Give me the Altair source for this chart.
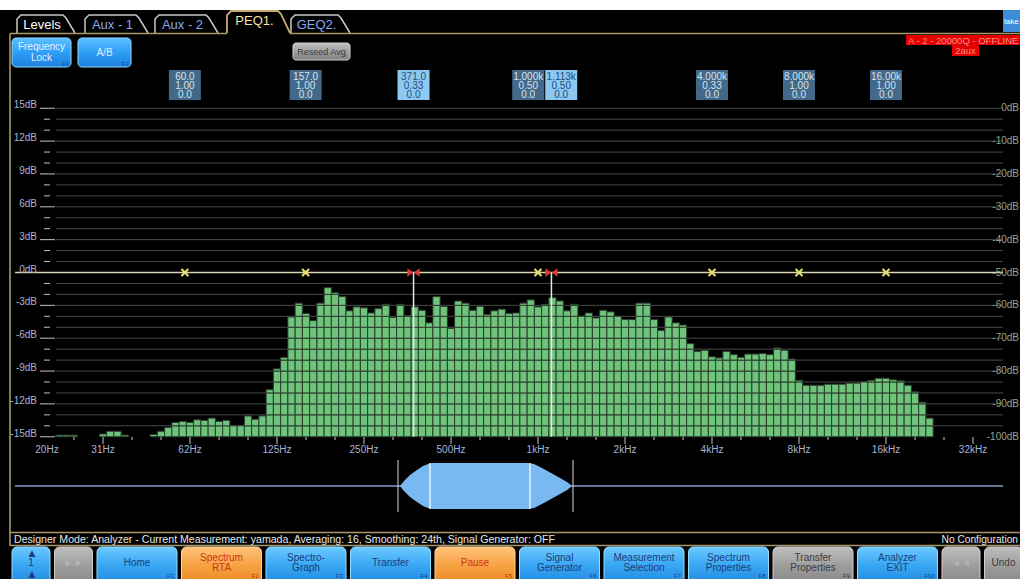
import altair as alt
import numpy as np
import pandas as pd

W, H = 1020, 579
FONT = "Liberation Sans"
NARROW = "Liberation Sans Narrow, Liberation Sans"

# ---------------- data ----------------
# RTA bands, 1/12 octave, index k -> centre 1 kHz * 2^(k/12)
band_index = [-66, -65, -64, -60, -59, -58, -57] + list(range(-53, 55))
level_db = [
    -14.85, -14.85, -14.85,
    -14.75, -14.5, -14.5, -14.85,
    -14.8, -14.5, -14.15, -13.7, -13.6, -13.7, -13.45, -13.5, -13.3, -13.6,
    -13.5, -14.0, -14.0, -13.1, -13.4, -13.1, -10.7, -8.8, -7.75, -4.06,
    -2.8, -3.75, -4.4, -2.8, -1.38, -1.85, -2.2, -3.5, -3.14, -3.23,
    -3.7, -3.3, -2.9, -4.1, -2.9, -3.94, -3.14, -3.45, -4.6, -2.2,
    -3.1, -5.1, -2.6, -2.8, -3.45, -3.1, -3.85, -3.5, -3.35, -3.75,
    -3.7, -2.8, -2.5, -3.14, -2.9, -2.3, -2.6, -3.5, -2.9, -4.0,
    -3.7, -4.15, -3.45, -3.6, -4.0, -4.3, -4.3, -2.8, -2.8, -4.3,
    -5.3, -4.06, -4.6, -4.8, -6.5, -7.2, -7.1, -7.7, -7.8, -7.2,
    -7.5, -7.75, -7.45, -7.45, -7.4, -7.5, -6.9, -7.1, -7.9, -9.85,
    -10.3, -10.3, -10.3, -10.2, -10.2, -10.2, -10.1, -10.1, -10.0, -9.85,
    -9.66, -9.66, -9.8, -9.9, -10.3, -10.9, -11.85, -13.3,
]

filter_freq = [60, 157, 371, 1000, 1113, 4000, 8000, 16000]
filter_label = ["60.0", "157.0", "371.0", "1.000k", "1.113k", "4.000k", "8.000k", "16.00k"]
filter_q = ["1.00", "1.00", "0.33", "0.50", "0.50", "0.33", "1.00", "1.00"]
filter_gain = ["0.0", "0.0", "0.0", "0.0", "0.0", "0.0", "0.0", "0.0"]
filter_selected = [False, False, True, False, True, False, False, False]

left_ticks_db = list(range(15, -16, -3))
left_tick_labels = [f"{v}dB" for v in left_ticks_db]
right_tick_labels = ["0dB", "-10dB", "-20dB", "-30dB", "-40dB", "-50dB",
                     "-60dB", "-70dB", "-80dB", "-90dB", "-100dB"]
x_label_freq = [20, 31.25, 62.5, 125, 250, 500, 1000, 2000, 4000, 8000, 16000, 32000]
x_label_text = ["20Hz", "31Hz", "62Hz", "125Hz", "250Hz", "500Hz", "1kHz", "2kHz",
                "4kHz", "8kHz", "16kHz", "32kHz"]

tab_labels = ["Levels", "Aux - 1", "Aux - 2", "PEQ1.", "GEQ2."]
tab_text_color = ["#ffffff", "#86a8ec", "#86a8ec", "#f0e2a8", "#86a8ec"]
btn_labels = ["1", "►►", "Home", "Spectrum\nRTA", "Spectro-\nGraph", "Transfer", "Pause",
              "Signal\nGenerator", "Measurement\nSelection", "Spectrum\nProperties",
              "Transfer\nProperties", "Analyzer\nEXIT", "◄◄", "Undo"]
btn_kind = ["blue", "gray", "blue", "orange", "blue", "blue", "orange", "blue", "blue",
            "blue", "gray", "blue", "gray", "gray"]
btn_fkey = ["", "", "F1", "F2", "F3", "F4", "F5", "F6", "F7", "F8", "F9", "F10", "", ""]
status_text = ("Designer Mode: Analyzer - Current Measurement: yamada, Averaging: 16, "
               "Smoothing: 24th, Signal Generator: OFF")
status_right = "No Configuration"

# ---------------- layout / scales ----------------
PX_OCT = 87.0      # pixels per octave
X_1K = 538.0       # pixel of 1 kHz
Y_0DB = 272.5      # pixel of 0 dB
PX_DB = 10.95      # pixels per dB
F_MIN = 1000 * 2 ** (-X_1K / PX_OCT)
F_MAX = 1000 * 2 ** ((W - X_1K) / PX_OCT)
DB_TOP = Y_0DB / PX_DB
DB_BOT = -(H - Y_0DB) / PX_DB

XF = alt.Scale(type="log", domain=[F_MIN, F_MAX], range=[0, W], nice=False)
YD = alt.Scale(domain=[DB_BOT, DB_TOP], range=[H, 0], nice=False, zero=False)
XP = alt.Scale(domain=[0, W], range=[0, W], nice=False, zero=False)
YP = alt.Scale(domain=[0, H], range=[0, H], nice=False, zero=False)


def fX(c):
    return alt.X(f"{c}:Q", scale=XF, axis=None)


def dY(c):
    return alt.Y(f"{c}:Q", scale=YD, axis=None)


def pX(c):
    return alt.X(f"{c}:Q", scale=XP, axis=None)


def pY(c):
    return alt.Y(f"{c}:Q", scale=YP, axis=None)


def grad(stops):
    return alt.Gradient(gradient="linear", x1=0, x2=0, y1=0, y2=1,
                        stops=[alt.GradientStop(color=c, offset=o) for o, c in stops])


def block_y(labels, centre, lh):
    # first-line y so that a multi-line label is centred on `centre`
    return [centre - (t.count("\n")) * lh / 2 for t in labels]


layers = []

# white strip at the very top
layers.append(alt.Chart(pd.DataFrame({"x0": [0], "x1": [W], "y0": [0], "y1": [10]}))
              .mark_rect(color="#ffffff").encode(x=pX("x0"), x2="x1", y=pY("y0"), y2="y1"))

# ---------------- plot: grid ----------------
grid_db = [v for v in range(15, -15, -1) if v != 0]
layers.append(alt.Chart(pd.DataFrame({"db": grid_db})).mark_rule(color="#4a4a4a", strokeWidth=1)
              .encode(y=dY("db"), x=alt.value(56), x2=alt.value(1003)))

# ---------------- bars as 1 dB cells ----------------
cells = []
for k, t in zip(band_index, level_db):
    fc = 1000 * 2 ** (k / 12)
    f0, f1 = fc * 2 ** (-1 / 24), fc * 2 ** (1 / 24)
    lv = -15
    while lv < t:
        cells.append({"f0": f0, "f1": f1, "y0": lv, "y1": min(lv + 1, t)})
        lv += 1
layers.append(alt.Chart(pd.DataFrame(cells))
              .mark_rect(fill="#6fc47c", stroke="#2c3d2e", strokeWidth=1)
              .encode(x=fX("f0"), x2="f1", y=dY("y0"), y2="y1"))

# x ticks
tick_rows = []
for n in range(-1, 31):
    tick_rows.append({"f": 31.25 * 2 ** (n / 3), "y0": 437, "y1": 444 if n % 3 == 0 else 440})
layers.append(alt.Chart(pd.DataFrame(tick_rows)).mark_rule(color="#c8c8c8", strokeWidth=1)
              .encode(x=fX("f"), y=pY("y0"), y2="y1"))

# left ticks
lt = pd.DataFrame({"db": list(range(15, -16, -1))})
lt_major = lt[lt.db % 3 == 0]
lt_minor = lt[lt.db % 3 != 0]
layers.append(alt.Chart(lt_major).mark_rule(color="#c4c4c4", strokeWidth=1)
              .encode(y=dY("db"), x=alt.value(40), x2=alt.value(55)))
layers.append(alt.Chart(lt_minor).mark_rule(color="#c4c4c4", strokeWidth=1)
              .encode(y=dY("db"), x=alt.value(44), x2=alt.value(50)))

# 0 dB line
layers.append(alt.Chart(pd.DataFrame({"db": [0]})).mark_rule(color="#d6d6b4", strokeWidth=1.5)
              .encode(y=dY("db"), x=alt.value(15), x2=alt.value(1003)))

fdf = pd.DataFrame({"f": filter_freq, "lab": filter_label, "q": filter_q, "g": filter_gain,
                    "sel": filter_selected, "top": 0.0, "bot": -15.0})
# selected filter cursor lines
layers.append(alt.Chart(fdf[fdf.sel]).mark_rule(color="#e6e6e6", strokeWidth=1.5)
              .encode(x=fX("f"), y=dY("top"), y2="bot"))
# markers
XSHAPE = ("M -1 -0.7 L -0.65 -1 L 0 -0.38 L 0.65 -1 L 1 -0.7 L 0.38 0 L 1 0.7 L 0.65 1 "
          "L 0 0.38 L -0.65 1 L -1 0.7 L -0.38 0 Z")
BOWTIE = "M -1 -0.7 L -0.05 0 L -1 0.7 Z M 1 -0.7 L 0.05 0 L 1 0.7 Z"
layers.append(alt.Chart(fdf[~fdf.sel]).mark_point(shape=XSHAPE, filled=True, size=70,
                                                   color="#e8e070", opacity=1)
              .encode(x=fX("f"), y=dY("top")))
layers.append(alt.Chart(fdf[fdf.sel]).mark_point(shape=BOWTIE, filled=True, size=150,
                                                  color="#e03838", opacity=1)
              .encode(x=fX("f"), y=dY("top")))

# axis labels
layers.append(alt.Chart(pd.DataFrame({"db": left_ticks_db, "t": left_tick_labels}))
              .mark_text(align="right", baseline="middle", dy=-3, fontSize=10, font=FONT,
                         color="#a9b4d2")
              .encode(x=alt.value(37), y=dY("db"), text="t:N"))
layers.append(alt.Chart(pd.DataFrame({"db": left_ticks_db, "t": right_tick_labels}))
              .mark_text(align="right", baseline="middle", dy=0, fontSize=10, font=FONT,
                         color="#93a590")
              .encode(x=alt.value(1019), y=dY("db"), text="t:N"))
layers.append(alt.Chart(pd.DataFrame({"f": x_label_freq, "t": x_label_text, "y": 450}))
              .mark_text(align="center", baseline="middle", fontSize=10, font=NARROW,
                         color="#a8b4d6")
              .encode(x=fX("f"), y=pY("y"), text="t:N"))

# ---------------- filter parameter boxes ----------------
pos = np.log2(np.array(filter_freq, dtype=float) / 1000.0)
gap = 33 / PX_OCT
for _ in range(30):
    for i in range(len(pos) - 1):
        d = pos[i + 1] - pos[i]
        if d < gap:
            m = (gap - d) / 2
            pos[i] -= m
            pos[i + 1] += m
half = 16 / PX_OCT
fdf["bc"] = 1000 * 2 ** pos
fdf["b0"] = 1000 * 2 ** (pos - half)
fdf["b1"] = 1000 * 2 ** (pos + half)
fdf["y0"] = 70
fdf["y1"] = 100
fdf["fill"] = np.where(fdf.sel, "#8cc8f0", "#42698a")
fdf["tc"] = np.where(fdf.sel, "#1e4e80", "#d8e4f0")
layers.append(alt.Chart(fdf).mark_rect()
              .encode(x=fX("b0"), x2="b1", y=pY("y0"), y2="y1",
                      color=alt.Color("fill:N", scale=None)))
for col, yy in (("lab", 76.5), ("q", 85.5), ("g", 94.5)):
    d = fdf.copy()
    d["ty"] = yy
    layers.append(alt.Chart(d).mark_text(fontSize=10, font=NARROW, baseline="middle")
                  .encode(x=fX("bc"), y=pY("ty"), text=f"{col}:N",
                          color=alt.Color("tc:N", scale=None)))

# ---------------- chrome: tabs ----------------
tab_x0 = [17, 85, 155, 227, 291]
tab_x1 = [75, 148, 218, 290, 350]
tab_top = [15, 15, 15, 11, 15]
tab_pts = []
for i, (a, b, t) in enumerate(zip(tab_x0, tab_x1, tab_top)):
    for j, (x, y) in enumerate([(a, 33), (a, t + 4), (a + 4, t), (b - 12, t), (b - 9, t + 3), (b, 33)]):
        tab_pts.append({"tab": i, "o": j, "x": x, "y": y, "act": i == 3})
tp = pd.DataFrame(tab_pts)
layers.append(alt.Chart(tp[~tp.act]).mark_line(color="#c9c9c9", strokeWidth=1.5)
              .encode(x=pX("x"), y=pY("y"), detail="tab:N", order="o:Q"))
layers.append(alt.Chart(tp[tp.act]).mark_line(color="#c4ac6c", strokeWidth=1.8)
              .encode(x=pX("x"), y=pY("y"), detail="tab:N", order="o:Q"))
tt = pd.DataFrame({"t": tab_labels, "c": tab_text_color,
                   "x": [(a + b - 8) / 2 for a, b in zip(tab_x0, tab_x1)],
                   "y": [t + 10 for t in tab_top]})
layers.append(alt.Chart(tt).mark_text(fontSize=13, font=FONT, baseline="middle")
              .encode(x=pX("x"), y=pY("y"), text="t:N", color=alt.Color("c:N", scale=None)))

# khaki frame lines
frame = pd.DataFrame({"x0": [10, 290, 10, 10, 10], "x1": [227, W, 10, W, W],
                      "y0": [33.5, 33.5, 33.5, 532.5, 545.5], "y1": [33.5, 33.5, 546, 532.5, 545.5]})
layers.append(alt.Chart(frame).mark_rule(color="#a8976a", strokeWidth=1.6)
              .encode(x=pX("x0"), x2="x1", y=pY("y0"), y2="y1"))

# lake logo
layers.append(alt.Chart(pd.DataFrame({"x0": [1003], "x1": [W], "y0": [10], "y1": [32]}))
              .mark_rect(color="#3b8ddb").encode(x=pX("x0"), x2="x1", y=pY("y0"), y2="y1"))
layers.append(alt.Chart(pd.DataFrame({"x": [1004], "y": [22], "t": ["lake"]}))
              .mark_text(align="left", baseline="middle", fontSize=8, font=NARROW, color="#ffffff")
              .encode(x=pX("x"), y=pY("y"), text="t:N"))

# top buttons
BLUE_BRIGHT = grad([(0, "#5cc0ff"), (0.5, "#2e9ef5"), (1, "#1c7fe0")])
tb = pd.DataFrame({"x0": [12, 78], "x1": [71, 131], "y0": [38, 38], "y1": [67, 67],
                   "t": ["Frequency\nLock", "A/B"], "fk": ["F1", "F2"]})
tb["xc"] = (tb.x0 + tb.x1) / 2
tb["yc"] = block_y(list(tb.t), 52.5, 11)
tb["fx"] = tb.x1 - 2
tb["fy"] = 64
layers.append(alt.Chart(tb).mark_rect(fill=BLUE_BRIGHT, stroke="#8ed8ff", strokeWidth=1, cornerRadius=4)
              .encode(x=pX("x0"), x2="x1", y=pY("y0"), y2="y1"))
layers.append(alt.Chart(tb).mark_text(fontSize=10, font=FONT, color="#e4eeff", lineBreak="\n",
                                      lineHeight=11, baseline="middle")
              .encode(x=pX("xc"), y=pY("yc"), text="t:N"))
layers.append(alt.Chart(tb).mark_text(fontSize=6, font=FONT, color="#1a4a9a", align="right",
                                      baseline="middle")
              .encode(x=pX("fx"), y=pY("fy"), text="fk:N"))

# reseed avg
GRAY = grad([(0, "#c0c0c0"), (0.5, "#a0a0a0"), (1, "#808080")])
rs = pd.DataFrame({"x0": [293], "x1": [350], "y0": [43], "y1": [60], "xc": [321.5], "yc": [51.5],
                   "t": ["Reseed Avg"]})
layers.append(alt.Chart(rs).mark_rect(fill=GRAY, stroke="#d0d0d0", strokeWidth=1, cornerRadius=3)
              .encode(x=pX("x0"), x2="x1", y=pY("y0"), y2="y1"))
layers.append(alt.Chart(rs).mark_text(fontSize=9, font=FONT, color="#3a3a3a", baseline="middle")
              .encode(x=pX("xc"), y=pY("yc"), text="t:N"))

# offline label
red = pd.DataFrame({"x0": [906, 952], "x1": [W, 979], "y0": [35, 45], "y1": [45, 56]})
layers.append(alt.Chart(red).mark_rect(color="#e40000")
              .encode(x=pX("x0"), x2="x1", y=pY("y0"), y2="y1"))
redt = pd.DataFrame({"x": [908, 965.5], "y": [40.5, 50.5], "t": ["A - 2 - 20000Q - OFFLINE", "2aux"]})
layers.append(alt.Chart(redt.iloc[:1]).mark_text(fontSize=9.5, font=FONT, color="#ff8e84", align="left",
                                                 baseline="middle")
              .encode(x=pX("x"), y=pY("y"), text="t:N"))
layers.append(alt.Chart(redt.iloc[1:]).mark_text(fontSize=9.5, font=FONT, color="#ff8e84", align="center",
                                                 baseline="middle")
              .encode(x=pX("x"), y=pY("y"), text="t:N"))

# ---------------- filter overview strip ----------------
layers.append(alt.Chart(pd.DataFrame({"x0": [15], "x1": [1003], "y": [486]}))
              .mark_rule(color="#8a9cc8", strokeWidth=1.5)
              .encode(x=pX("x0"), x2="x1", y=pY("y")))
shape_x = [400, 404, 410, 417, 423, 428, 432, 528, 534, 542, 551, 560, 567, 572]
shape_h = [0, 5, 11, 16, 20, 22, 23, 23, 22, 18, 13, 8, 4, 0]
sh = pd.DataFrame({"x": shape_x, "y0": [486 - h for h in shape_h], "y1": [486 + h for h in shape_h]})
layers.append(alt.Chart(sh).mark_area(color="#7ab8f2", opacity=1)
              .encode(x=pX("x"), y=pY("y0"), y2="y1"))
vl = pd.DataFrame({"x": [398, 573, 430, 530], "y0": [460, 460, 463, 463], "y1": [512, 512, 509, 509]})
layers.append(alt.Chart(vl.iloc[:2]).mark_rule(color="#d8d8d8", strokeWidth=1)
              .encode(x=pX("x"), y=pY("y0"), y2="y1"))
layers.append(alt.Chart(vl.iloc[2:]).mark_rule(color="#eaf4ff", strokeWidth=1.5)
              .encode(x=pX("x"), y=pY("y0"), y2="y1"))

# ---------------- status bar ----------------
st = pd.DataFrame({"x": [14, 1018], "y": [539.5, 539.5], "t": [status_text, status_right]})
layers.append(alt.Chart(st.iloc[:1]).mark_text(fontSize=10.6, font=FONT, color="#e6e6e6", align="left",
                                               baseline="middle")
              .encode(x=pX("x"), y=pY("y"), text="t:N"))
layers.append(alt.Chart(st.iloc[1:]).mark_text(fontSize=10.2, font=FONT, color="#e6e6e6", align="right",
                                               baseline="middle")
              .encode(x=pX("x"), y=pY("y"), text="t:N"))

# ---------------- bottom buttons ----------------
units = [0.5 if k in ("1", "►►", "◄◄", "Undo") else 1.0 for k in btn_labels]
xs, x = [], 12.0
for u in units:
    w = 38.0 if u < 1 else 80.0
    xs.append((x, x + w))
    x += w + 4.5
bb = pd.DataFrame({"t": btn_labels, "kind": btn_kind, "fk": btn_fkey,
                   "x0": [a for a, _ in xs], "x1": [b for _, b in xs]})
bb["y0"] = 547
bb["y1"] = 586
bb["xc"] = (bb.x0 + bb.x1) / 2
bb["yc"] = block_y(btn_labels, 563, 10.5)
bb["fx"] = bb.x1 - 3
bb["fy"] = 575.5
TEXTC = {"blue": "#1b3d7a", "orange": "#cc3418", "gray": "#3c3c3c"}
FKC = {"blue": "#1b3d9a", "orange": "#d02010", "gray": "#3c3c3c"}
bb["tc"] = [TEXTC[k] for k in bb.kind]
bb.loc[bb.t.isin(["►►", "◄◄"]), "tc"] = "#b4b4b4"
bb["fc"] = [FKC[k] for k in bb.kind]
FILLS = {
    "blue": (grad([(0, "#6ccaff"), (0.45, "#3aa8f4"), (1, "#1e86dc")]), "#92dcff"),
    "orange": (grad([(0, "#ffc27a"), (0.45, "#f7a444"), (1, "#e8861e")]), "#ffd49a"),
    "gray": (grad([(0, "#bebebe"), (0.5, "#9c9c9c"), (1, "#848484")]), "#cfcfcf"),
}
for kind, (g, s) in FILLS.items():
    layers.append(alt.Chart(bb[bb.kind == kind]).mark_rect(fill=g, stroke=s, strokeWidth=1, cornerRadius=5)
                  .encode(x=pX("x0"), x2="x1", y=pY("y0"), y2="y1"))
layers.append(alt.Chart(bb).mark_text(fontSize=10, font=FONT, lineBreak="\n", lineHeight=10.5,
                                      baseline="middle")
              .encode(x=pX("xc"), y=pY("yc"), text="t:N", color=alt.Color("tc:N", scale=None)))
layers.append(alt.Chart(bb[bb.fk != ""]).mark_text(fontSize=6, font=FONT, align="right", baseline="middle")
              .encode(x=pX("fx"), y=pY("fy"), text="fk:N", color=alt.Color("fc:N", scale=None)))
arr = pd.DataFrame({"x": [32, 32], "y": [553, 574], "t": ["▲", "▲"]})
layers.append(alt.Chart(arr).mark_text(fontSize=9, font="DejaVu Sans", color="#1b3d7a", baseline="middle")
              .encode(x=pX("x"), y=pY("y"), text="t:N"))

chart = (alt.layer(*layers)
         .resolve_scale(x="independent", y="independent", color="independent")
         .properties(width=W, height=H, background="#000000", padding=0,
                     autosize=alt.AutoSizeParams(type="none"))
         .configure_view(strokeWidth=0))

chart.save("out.html", embed_options={"renderer": "svg", "actions": False})
